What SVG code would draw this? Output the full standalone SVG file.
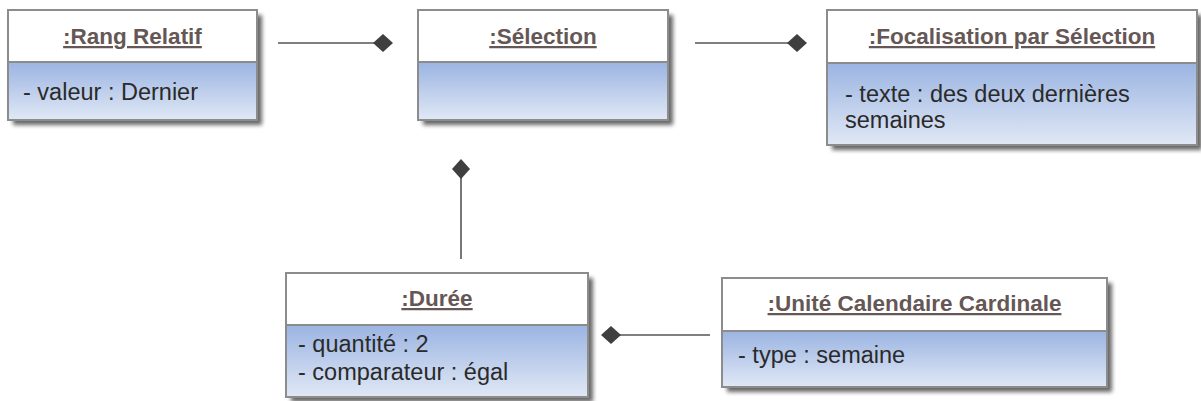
<svg xmlns="http://www.w3.org/2000/svg" width="1201" height="401" viewBox="0 0 1201 401">
  <defs>
    <linearGradient id="attrGrad" x1="0" y1="0" x2="0" y2="1">
      <stop offset="0" stop-color="#9bb4e2"/>
      <stop offset="1" stop-color="#e0e8f5"/>
    </linearGradient>
    <filter id="shadow" x="-10%" y="-10%" width="130%" height="140%">
      <feGaussianBlur in="SourceAlpha" stdDeviation="2.2"/>
      <feOffset dx="5" dy="5" result="b"/>
      <feComponentTransfer><feFuncA type="linear" slope="0.6"/></feComponentTransfer>
      <feMerge><feMergeNode/><feMergeNode in="SourceGraphic"/></feMerge>
    </filter>
    <marker id="diamond" viewBox="0 0 20 18" refX="10" refY="9" markerWidth="20" markerHeight="18" markerUnits="userSpaceOnUse" orient="auto">
      <path d="M0,9 L10,0 L20,9 L10,18 Z" fill="#3f3f3f"/>
    </marker>
    <style>
      .box { filter: url(#shadow); }
      .head { fill: #ffffff; }
      .attr { fill: url(#attrGrad); }
      .frame { fill: none; stroke: #8c8c8c; stroke-width: 2; }
      .title { font-family: "Liberation Sans", Arial, sans-serif; font-size: 22.5px; font-weight: bold; fill: #655755; text-anchor: middle; text-decoration: underline; }
      .txt { font-family: "Liberation Sans", Arial, sans-serif; font-size: 23.5px; fill: #2a2a2a; }
      .conn { stroke: #555555; stroke-width: 1.6; fill: none; }
    </style>
  </defs>

  <g id="connectors">
    <line class="conn" x1="278" y1="43" x2="383" y2="43" marker-end="url(#diamond)"/>
    <line class="conn" x1="695" y1="43" x2="797" y2="43" marker-end="url(#diamond)"/>
    <line class="conn" x1="461" y1="259" x2="461" y2="169" marker-end="url(#diamond)"/>
    <line class="conn" x1="710" y1="335" x2="611" y2="335" marker-end="url(#diamond)"/>
  </g>

  <g id="rang-relatif">
    <g class="box">
      <rect class="head" x="8" y="10" width="249" height="52"/>
      <rect class="attr" x="8" y="62" width="249" height="58"/>
    </g>
    <rect class="frame" x="8" y="10" width="249" height="110"/>
    <line class="frame" x1="8" y1="62" x2="257" y2="62"/>
    <text class="title" x="132.5" y="44">:Rang Relatif</text>
    <text class="txt" x="23" y="100">- valeur : Dernier</text>
  </g>

  <g id="selection">
    <g class="box">
      <rect class="head" x="418" y="10" width="250" height="52"/>
      <rect class="attr" x="418" y="62" width="250" height="58"/>
    </g>
    <rect class="frame" x="418" y="10" width="250" height="110"/>
    <line class="frame" x1="418" y1="62" x2="668" y2="62"/>
    <text class="title" x="543" y="44">:Sélection</text>
  </g>

  <g id="focalisation">
    <g class="box">
      <rect class="head" x="827" y="10" width="370" height="53"/>
      <rect class="attr" x="827" y="63" width="370" height="82"/>
    </g>
    <rect class="frame" x="827" y="10" width="370" height="135"/>
    <line class="frame" x1="827" y1="63" x2="1197" y2="63"/>
    <text class="title" x="1012" y="44">:Focalisation par Sélection</text>
    <text class="txt" x="845" y="102">- texte : des deux dernières</text>
    <text class="txt" x="845" y="128">semaines</text>
  </g>

  <g id="duree">
    <g class="box">
      <rect class="head" x="286" y="273" width="302" height="52"/>
      <rect class="attr" x="286" y="325" width="302" height="72"/>
    </g>
    <rect class="frame" x="286" y="273" width="302" height="124"/>
    <line class="frame" x1="286" y1="325" x2="588" y2="325"/>
    <text class="title" x="437" y="306">:Durée</text>
    <text class="txt" x="298" y="352">- quantité : 2</text>
    <text class="txt" x="298" y="380">- comparateur : égal</text>
  </g>

  <g id="unite-calendaire">
    <g class="box">
      <rect class="head" x="722" y="278" width="385" height="53"/>
      <rect class="attr" x="722" y="331" width="385" height="56"/>
    </g>
    <rect class="frame" x="722" y="278" width="385" height="109"/>
    <line class="frame" x1="722" y1="331" x2="1107" y2="331"/>
    <text class="title" x="914.5" y="311">:Unité Calendaire Cardinale</text>
    <text class="txt" x="738" y="363">- type : semaine</text>
  </g>
</svg>
